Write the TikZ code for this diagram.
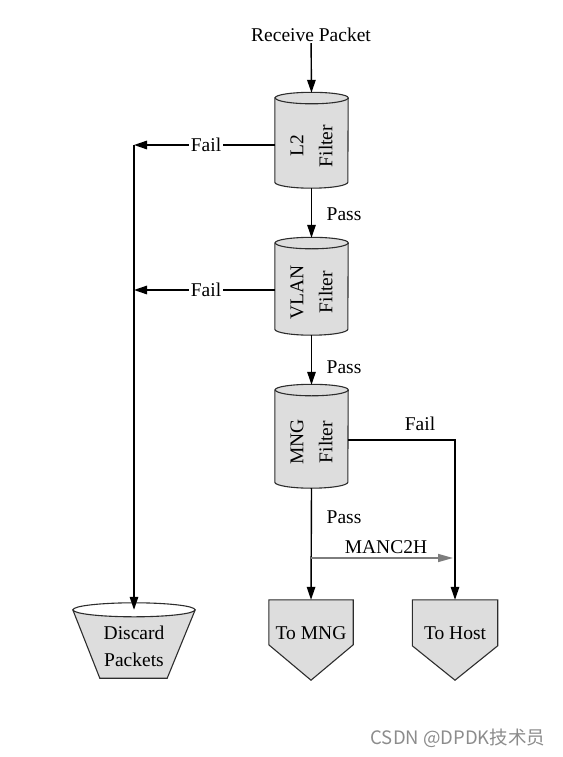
\documentclass[tikz,border=0pt]{standalone}
\usepackage{fontspec}
\setmainfont{Liberation Serif}
\newfontfamily\cjkwm{Noto Sans CJK SC}
\usetikzlibrary{arrows.meta,calc}
\definecolor{boxfill}{RGB}{221,221,221}
\definecolor{boxline}{RGB}{45,45,45}
\definecolor{arrgray}{RGB}{125,125,125}
\newcommand\cylshape[1]{%
  \filldraw[shapefill] ($(#1.north west)+(0,5)$) -- ($(#1.south west)+(0,-6)$)
    arc[start angle=180,end angle=360,x radius=36.5pt,y radius=6pt]
    -- ($(#1.north east)+(0,5)$)
    arc[start angle=0,end angle=180,x radius=36.5pt,y radius=5.5pt] -- cycle;
  \draw[shapefill,fill=none] ($(#1.north east)+(0,5)$)
    arc[start angle=360,end angle=180,x radius=36.5pt,y radius=6pt];
}
\begin{document}
\begin{tikzpicture}[x=1pt,y=-1pt,
  lbl/.style={font=\fontsize{19.5}{23}\selectfont, inner sep=1pt},
  lblbg/.style={lbl, fill=white, inner sep=2pt},
  frame/.style={draw=none, inner sep=0pt},
  conn/.style={line width=1.4pt, -{Triangle[length=13pt,width=8.5pt]}},
  grayconn/.style={line width=1.6pt, draw=arrgray, -{Triangle[length=15pt,width=8pt,fill=arrgray]}},
  shapefill/.style={fill=boxfill, draw=boxline, line width=1.1pt},
  rottext/.style={rotate=90, align=center, inner sep=0pt, font=\fontsize{19.5}{29}\selectfont},
  boxtext/.style={align=center, inner sep=0pt, font=\fontsize{19.5}{27}\selectfont}
]
\useasboundingbox (0,0) rectangle (562,757);

% frames
\node[frame, minimum width=73pt, minimum height=95pt] (l2) at (311.5,140.5) {};
\node[frame, minimum width=73pt, minimum height=97pt] (vlan) at (311.5,286.5) {};
\node[frame, minimum width=73pt, minimum height=103pt] (mng) at (311.5,436.5) {};
\node[frame, minimum width=122pt, minimum height=68pt] (disc) at (134,644) {};
\node[frame, minimum width=84pt, minimum height=80pt] (tomng) at (311,640) {};
\node[frame, minimum width=85pt, minimum height=80pt] (tohost) at (455,640) {};

% shapes
\cylshape{l2}
\cylshape{vlan}
\cylshape{mng}
\filldraw[shapefill] (disc.north west) -- ($(disc.south west)+(27,0)$)
  -- ($(disc.south east)+(-28,0)$) -- (disc.north east) -- cycle;
\filldraw[shapefill, fill=white] (disc.north) ellipse[x radius=61pt, y radius=7pt];
\filldraw[shapefill] (tomng.north west) -- (tomng.north east) -- ($(tomng.north east)+(0,45)$)
  -- (tomng.south) -- ($(tomng.north west)+(0,45)$) -- cycle;
\filldraw[shapefill] (tohost.north west) -- (tohost.north east) -- ($(tohost.north east)+(0,46)$)
  -- (tohost.south) -- ($(tohost.north west)+(0,46)$) -- cycle;

% texts in shapes
\node[rottext] (l2t) at ($(l2)+(0,5.5)$) {L2\\Filter};
\node[rottext] (vlant) at ($(vlan)+(0,5.5)$) {VLAN\\Filter};
\node[rottext] (mngt) at ($(mng)+(0,5.5)$) {MNG\\Filter};
\node[boxtext] (disct) at (134,646.5) {Discard\\Packets};
\node[boxtext] (tomngt) at (311,633) {To MNG};
\node[boxtext] (tohostt) at (455,633) {To Host};

% top input
\node[lbl] (recv) at (311,35) {Receive Packet};
\draw[conn] (recv) -- (l2.north);

% pass chain
\draw[conn] (l2.south) -- (vlan.north);
\node[lbl] (pass1) at (344,214) {Pass};
\draw[conn] (vlan.south) -- (mng.north);
\node[lbl] (pass2) at (344,367) {Pass};
\draw[conn] (mng.south) -- (tomng.north);
\node[lbl] (pass3) at (344,517) {Pass};

% fail to discard
\coordinate (j1) at (134,145);
\coordinate (j2) at (134,290);
\draw[conn] (l2.west |- j1) -- (j1);
\draw[conn] (vlan.west |- j2) -- (j2);
\draw[conn] (j1) -- (j1 |- disc.north);
\node[lblbg] (fail1) at (206,145) {Fail};
\node[lblbg] (fail2) at (206,290) {Fail};

% MNG fail to host
\coordinate (c3) at (455,440);
\draw[conn] (mng.east |- c3) -- (c3) -- (tohost.north);
\node[lbl] (fail3) at (420,424) {Fail};

% MANC2H
\coordinate (m1) at (311,558);
\coordinate (m2) at (453,558);
\draw[grayconn] (m1) -- (m2);
\node[lbl] (manc) at (386,547) {MANC2H};

% watermark
\node[text=black!45, font=\cjkwm\fontsize{18.5}{18.5}\selectfont, inner sep=0pt] (wm) at (458,738) {CSDN @DPDK技术员};
\end{tikzpicture}
\end{document}
